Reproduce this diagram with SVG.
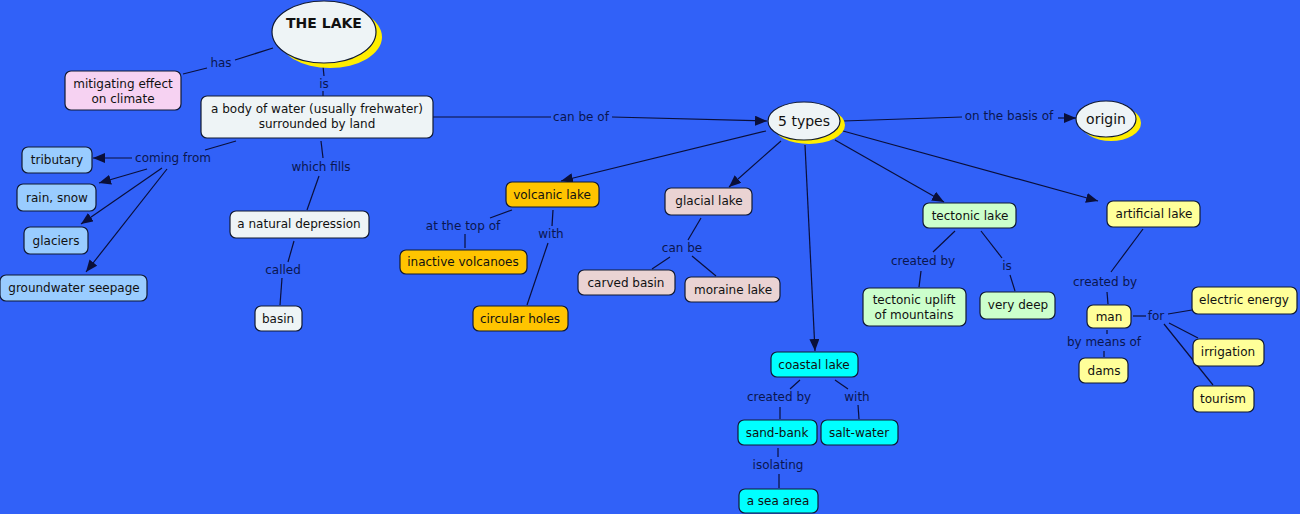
<svg xmlns="http://www.w3.org/2000/svg" width="1300" height="514" viewBox="0 0 1300 514">
<defs>
<style>
.bg{fill:#3161f8}
.n rect{stroke:#111a33;stroke-width:1.2}
.n text,.e text{font-family:"DejaVu Sans",Verdana,sans-serif;font-size:12px;fill:#111;text-anchor:middle}
.e ellipse.s{fill:#ffee00;stroke:none}
.e ellipse.m{fill:#eef4f6;stroke:#111a33;stroke-width:1.2}
.w{fill:#eef4f6}.pk{fill:#f6d2f2}.lb{fill:#99ccff}.gd{fill:#ffc400}.gl{fill:#ead3d3}.gr{fill:#ccffcc}.yl{fill:#ffff99}.cy{fill:#00ffff}
.c line,.c path{stroke:#0a0f3a;stroke-width:1.2;fill:none}
.lbl text{font-family:"DejaVu Sans",Verdana,sans-serif;font-size:12px;fill:#0a1650;text-anchor:middle}
</style>
<marker id="ah" viewBox="0 0 12 10" refX="12" refY="5" markerWidth="12" markerHeight="10" markerUnits="userSpaceOnUse" orient="auto">
<path d="M0,0 L12,5 L0,10 z" fill="#0a0f3a"/>
</marker>
</defs>
<rect class="bg" x="0" y="0" width="1300" height="514"/>

<g id="connectors" class="c">
<line x1="273" y1="48" x2="235" y2="60"/>
<line x1="207" y1="68" x2="183" y2="74"/>
<line x1="323" y1="66" x2="324" y2="76"/>
<line x1="323" y1="91" x2="323" y2="96"/>
<line x1="433" y1="117" x2="551" y2="117"/>
<line x1="612" y1="117" x2="767" y2="121" marker-end="url(#ah)"/>
<line x1="236" y1="141" x2="205" y2="150"/>
<line x1="132" y1="158" x2="93" y2="158" marker-end="url(#ah)"/>
<line x1="147" y1="169" x2="99" y2="183" marker-end="url(#ah)"/>
<line x1="162" y1="168" x2="81" y2="224" marker-end="url(#ah)"/>
<line x1="167" y1="169" x2="86" y2="272" marker-end="url(#ah)"/>
<line x1="321" y1="141" x2="323" y2="158"/>
<line x1="319" y1="176" x2="307" y2="210"/>
<line x1="294" y1="241" x2="288" y2="262"/>
<line x1="282" y1="278" x2="280" y2="305"/>
<line x1="766" y1="131" x2="561" y2="181" marker-end="url(#ah)"/>
<line x1="781" y1="141" x2="729" y2="187" marker-end="url(#ah)"/>
<line x1="805" y1="145" x2="815" y2="351" marker-end="url(#ah)"/>
<line x1="835" y1="140" x2="944" y2="202" marker-end="url(#ah)"/>
<line x1="843" y1="131" x2="1098" y2="201" marker-end="url(#ah)"/>
<line x1="843" y1="121" x2="962" y2="117"/>
<line x1="1058" y1="118" x2="1076" y2="118" marker-end="url(#ah)"/>
<line x1="512" y1="210" x2="490" y2="218"/>
<line x1="465" y1="234" x2="465" y2="248"/>
<line x1="553" y1="210" x2="552" y2="226"/>
<line x1="548" y1="243" x2="527" y2="305"/>
<line x1="701" y1="218" x2="688" y2="240"/>
<line x1="670" y1="257" x2="652" y2="269"/>
<line x1="692" y1="256" x2="716" y2="276"/>
<line x1="955" y1="231" x2="933" y2="252"/>
<line x1="921" y1="271" x2="919" y2="287"/>
<line x1="981" y1="231" x2="1002" y2="258"/>
<line x1="1010" y1="275" x2="1015" y2="291"/>
<line x1="1143" y1="229" x2="1111" y2="272"/>
<line x1="1107" y1="292" x2="1108" y2="304"/>
<line x1="1133" y1="316" x2="1146" y2="316"/>
<line x1="1168" y1="314" x2="1192" y2="310"/>
<line x1="1169" y1="323" x2="1198" y2="338"/>
<line x1="1164" y1="324" x2="1213" y2="385"/>
<line x1="1107" y1="330" x2="1107" y2="334"/>
<line x1="1104" y1="351" x2="1104" y2="357"/>
<line x1="800" y1="380" x2="790" y2="389"/>
<line x1="780" y1="407" x2="780" y2="419"/>
<line x1="835" y1="380" x2="848" y2="389"/>
<line x1="858" y1="405" x2="859" y2="419"/>
<line x1="778" y1="448" x2="778" y2="457"/>
<line x1="779" y1="474" x2="779" y2="488"/>
</g>

<g id="link-labels" class="lbl">
<text x="221" y="67">has</text>
<text x="324" y="88">is</text>
<text x="581" y="121">can be of</text>
<text x="173" y="162">coming from</text>
<text x="321" y="171">which fills</text>
<text x="283" y="274">called</text>
<text x="463" y="230">at the top of</text>
<text x="551" y="238">with</text>
<text x="682" y="252">can be</text>
<text x="1009" y="120">on the basis of</text>
<text x="923" y="265">created by</text>
<text x="1007" y="270">is</text>
<text x="1105" y="286">created by</text>
<text x="1156" y="320">for</text>
<text x="1104" y="346">by means of</text>
<text x="779" y="401">created by</text>
<text x="857" y="401">with</text>
<text x="778" y="469">isolating</text>
</g>

<g id="the-lake" class="e">
<ellipse class="s" cx="330" cy="37" rx="52" ry="31"/>
<ellipse class="m" cx="324" cy="32" rx="52" ry="31"/>
<text x="324" y="28" style="font-weight:bold;font-size:14px">THE LAKE</text>
</g>
<g id="five-types" class="e">
<ellipse class="s" cx="809" cy="125" rx="36" ry="19"/>
<ellipse class="m" cx="804" cy="121" rx="36" ry="19"/>
<text x="804" y="126" style="font-size:14px">5 types</text>
</g>
<g id="origin" class="e">
<ellipse class="s" cx="1111" cy="123" rx="30" ry="18"/>
<ellipse class="m" cx="1106" cy="119" rx="30" ry="18"/>
<text x="1106" y="124" style="font-size:14px">origin</text>
</g>

<g id="mitigating" class="n"><rect class="pk" x="65" y="71" width="116" height="39" rx="6"/><text x="123" y="88">mitigating effect</text><text x="123" y="103">on climate</text></g>
<g id="body-of-water" class="n"><rect class="w" x="201" y="96" width="232" height="42" rx="6"/><text x="317" y="113">a body of water (usually frehwater)</text><text x="317" y="128">surrounded by land</text></g>
<g id="tributary" class="n"><rect class="lb" x="22" y="147" width="70" height="26" rx="6"/><text x="57" y="164">tributary</text></g>
<g id="rain-snow" class="n"><rect class="lb" x="17" y="184" width="79" height="27" rx="6"/><text x="57" y="202">rain, snow</text></g>
<g id="glaciers" class="n"><rect class="lb" x="24" y="227" width="64" height="27" rx="6"/><text x="56" y="245">glaciers</text></g>
<g id="groundwater" class="n"><rect class="lb" x="0" y="275" width="147" height="26" rx="6"/><text x="74" y="292">groundwater seepage</text></g>
<g id="natural-depression" class="n"><rect class="w" x="230" y="211" width="139" height="27" rx="6"/><text x="299" y="228">a natural depression</text></g>
<g id="basin" class="n"><rect class="w" x="255" y="306" width="47" height="25" rx="6"/><text x="278" y="323">basin</text></g>
<g id="volcanic-lake" class="n"><rect class="gd" x="506" y="182" width="93" height="25" rx="6"/><text x="552" y="199">volcanic lake</text></g>
<g id="inactive-volcanoes" class="n"><rect class="gd" x="400" y="250" width="127" height="24" rx="6"/><text x="463" y="266">inactive volcanoes</text></g>
<g id="circular-holes" class="n"><rect class="gd" x="473" y="306" width="95" height="25" rx="6"/><text x="520" y="323">circular holes</text></g>
<g id="glacial-lake" class="n"><rect class="gl" x="665" y="188" width="87" height="27" rx="6"/><text x="709" y="205">glacial lake</text></g>
<g id="carved-basin" class="n"><rect class="gl" x="578" y="270" width="97" height="25" rx="6"/><text x="626" y="287">carved basin</text></g>
<g id="moraine-lake" class="n"><rect class="gl" x="685" y="277" width="95" height="25" rx="6"/><text x="733" y="294">moraine lake</text></g>
<g id="tectonic-lake" class="n"><rect class="gr" x="923" y="203" width="93" height="25" rx="6"/><text x="970" y="220">tectonic lake</text></g>
<g id="tectonic-uplift" class="n"><rect class="gr" x="863" y="288" width="103" height="38" rx="6"/><text x="914" y="304">tectonic uplift</text><text x="914" y="319">of mountains</text></g>
<g id="very-deep" class="n"><rect class="gr" x="980" y="292" width="75" height="27" rx="6"/><text x="1018" y="309">very deep</text></g>
<g id="artificial-lake" class="n"><rect class="yl" x="1107" y="201" width="93" height="26" rx="6"/><text x="1154" y="218">artificial lake</text></g>
<g id="man" class="n"><rect class="yl" x="1087" y="305" width="44" height="23" rx="6"/><text x="1109" y="321">man</text></g>
<g id="dams" class="n"><rect class="yl" x="1079" y="358" width="49" height="25" rx="6"/><text x="1104" y="375">dams</text></g>
<g id="electric-energy" class="n"><rect class="yl" x="1192" y="287" width="105" height="27" rx="6"/><text x="1244" y="304">electric energy</text></g>
<g id="irrigation" class="n"><rect class="yl" x="1193" y="339" width="71" height="27" rx="6"/><text x="1228" y="356">irrigation</text></g>
<g id="tourism" class="n"><rect class="yl" x="1193" y="386" width="61" height="26" rx="6"/><text x="1223" y="403">tourism</text></g>
<g id="coastal-lake" class="n"><rect class="cy" x="771" y="352" width="87" height="25" rx="6"/><text x="814" y="369">coastal lake</text></g>
<g id="sand-bank" class="n"><rect class="cy" x="738" y="420" width="79" height="25" rx="6"/><text x="777" y="437">sand-bank</text></g>
<g id="salt-water" class="n"><rect class="cy" x="821" y="420" width="77" height="25" rx="6"/><text x="859" y="437">salt-water</text></g>
<g id="sea-area" class="n"><rect class="cy" x="739" y="489" width="79" height="24" rx="6"/><text x="778" y="505">a sea area</text></g>
</svg>
